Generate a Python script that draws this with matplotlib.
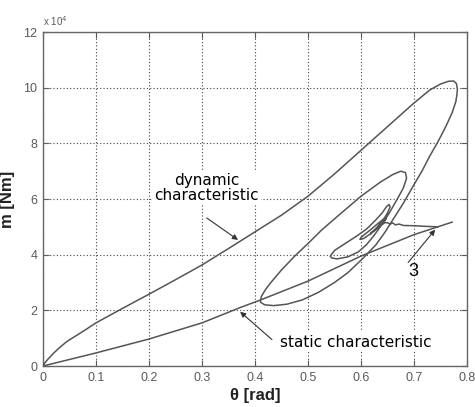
import numpy as np
import matplotlib
matplotlib.use('Agg')
import matplotlib.pyplot as plt

# torsion angle [rad] and moment [x 1e4 Nm], traced along the response
dyn_theta = [0, 0.003, 0.01, 0.02, 0.03, 0.045, 0.065, 0.08, 0.1, 0.15, 0.2, 0.25, 0.3,
             0.35, 0.4, 0.45, 0.5, 0.55, 0.6, 0.65, 0.7, 0.73, 0.75, 0.765, 0.775,
             0.78, 0.782,
             0.781, 0.779, 0.772, 0.76, 0.745, 0.73, 0.715, 0.698, 0.68, 0.66, 0.645,
             0.628, 0.6, 0.575, 0.55, 0.52, 0.49, 0.46, 0.435, 0.418, 0.41,
             0.412, 0.42, 0.43, 0.45, 0.475, 0.5, 0.526, 0.56, 0.6, 0.636, 0.66, 0.675,
             0.684, 0.686,
             0.68, 0.67, 0.655, 0.642, 0.625, 0.61, 0.595, 0.575, 0.555, 0.545, 0.542,
             0.55, 0.57, 0.592, 0.611, 0.628, 0.64, 0.648, 0.653, 0.655,
             0.65, 0.642, 0.63, 0.618, 0.605, 0.598, 0.6,
             0.615, 0.632, 0.645, 0.648, 0.64, 0.628, 0.618, 0.62, 0.635, 0.645,
             0.65, 0.655, 0.66, 0.665, 0.672, 0.68, 0.7, 0.72, 0.745]
dyn_m = [0, 0.1, 0.26, 0.46, 0.64, 0.88, 1.12, 1.3, 1.55, 2.07, 2.58, 3.1, 3.63,
         4.22, 4.82, 5.42, 6.1, 6.9, 7.75, 8.6, 9.45, 9.92, 10.13, 10.23, 10.24,
         10.15, 9.95,
         9.75, 9.5, 9.1, 8.6, 8.05, 7.55, 7.0, 6.45, 5.85, 5.25, 4.8,
         4.35, 3.8, 3.35, 3.0, 2.65, 2.38, 2.22, 2.17, 2.2, 2.3,
         2.5, 2.75, 3.0, 3.45, 3.95, 4.4, 4.89, 5.45, 6.1, 6.6, 6.88, 7.0,
         6.95, 6.75,
         6.4, 6.05, 5.55, 5.15, 4.7, 4.35, 4.1, 3.92, 3.85, 3.88, 3.95,
         4.15, 4.4, 4.67, 4.93, 5.25, 5.5, 5.72, 5.8, 5.72,
         5.5, 5.25, 4.98, 4.75, 4.58, 4.55, 4.62,
         4.85, 5.12, 5.32, 5.3, 5.1, 4.9, 4.75, 4.8, 5.02, 5.15,
         5.15, 5.1, 5.14, 5.07, 5.1, 5.05, 5.04, 5.02, 5.0]

stat_theta = [0, 0.1, 0.2, 0.3, 0.372, 0.41, 0.5, 0.6, 0.7, 0.772]
stat_m = [0, 0.47, 0.97, 1.55, 2.1, 2.37, 3.05, 3.95, 4.72, 5.17]

xticks = [0, 0.1, 0.2, 0.3, 0.4, 0.5, 0.6, 0.7, 0.8]
xtick_labels = ['0', '0.1', '0.2', '0.3', '0.4', '0.5', '0.6', '0.7', '0.8']
yticks = [0, 2, 4, 6, 8, 10, 12]

line_col = '#555555'
tick_col = '#5a5a5a'

fig = plt.figure(figsize=(4.75, 4.07), dpi=100)
ax = fig.add_axes([0.0905, 0.1007, 0.8926, 0.8206])

ax.plot(dyn_theta, dyn_m, color=line_col, lw=1.1, zorder=3)
ax.plot(stat_theta, stat_m, color=line_col, lw=1.1, zorder=3)

ax.set_xlim(0, 0.8)
ax.set_ylim(0, 12)
ax.set_xticks(xticks)
ax.set_xticklabels(xtick_labels)
ax.set_yticks(yticks)
ax.grid(True, color='#444444', linestyle=(0, (1, 2)), linewidth=0.8)
ax.set_axisbelow(True)

ax.tick_params(direction='in', top=True, right=True, length=4, width=0.8,
               color=tick_col, labelcolor=tick_col, labelsize=9, pad=4)
for lab in ax.get_xticklabels() + ax.get_yticklabels():
    lab.set_family('Liberation Sans')
for sp in ax.spines.values():
    sp.set_color('#666666')
    sp.set_linewidth(1.0)

ax.set_xlabel('θ [rad]', fontsize=12, fontweight='bold', family='Liberation Sans',
              color='#222222', labelpad=3)
ax.set_ylabel('m [Nm]', fontsize=12, fontweight='bold', family='Liberation Sans',
              color='#222222', labelpad=6)

ax.text(0.0, 1.012, 'x 10$^{4}$', transform=ax.transAxes, fontsize=7,
        color=tick_col, family='Liberation Sans', va='bottom', ha='left')

arrow = dict(arrowstyle='-|>', color='#333333', lw=0.8, mutation_scale=8,
             shrinkA=0, shrinkB=0)
box = dict(facecolor='white', edgecolor='none', pad=1.5)

# curve labels with their pointers
ax.text(0.309, 6.4, 'dynamic\ncharacteristic', ha='center', va='center',
        fontsize=11, family='DejaVu Sans', linespacing=1.0, bbox=box, zorder=4)
ax.annotate('', xy=(0.368, 4.53), xytext=(0.309, 5.32), arrowprops=arrow, zorder=4)

ax.text(0.447, 0.86, 'static characteristic', ha='left', va='center',
        fontsize=11, family='DejaVu Sans', bbox=box, zorder=4)
ax.annotate('', xy=(0.372, 1.95), xytext=(0.432, 0.95), arrowprops=arrow, zorder=4)

ax.text(0.698, 3.41, '3', ha='center', va='center', fontsize=13,
        family='Liberation Sans', zorder=4)
ax.annotate('', xy=(0.74, 4.9), xytext=(0.689, 3.72), arrowprops=arrow, zorder=4)

fig.savefig('out.png', dpi=100)
